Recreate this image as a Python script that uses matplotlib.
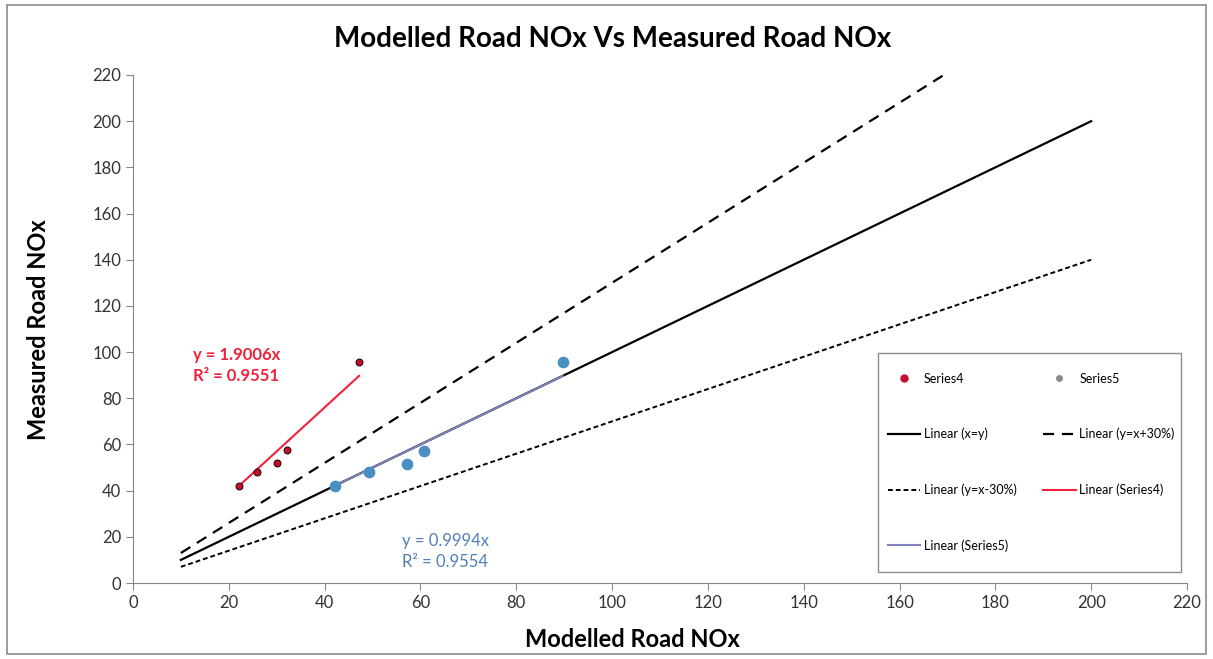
import numpy as np
import matplotlib.pyplot as plt
from matplotlib.lines import Line2D
from matplotlib.patches import Rectangle

plt.rcParams['font.family'] = ['Lato', 'DejaVu Sans']

# data
series4_x = [22.1, 25.8, 30.1, 32.1, 47.2]
series4_y = [42.0, 48.2, 51.8, 57.6, 95.8]
series5_x = [42.2, 49.3, 57.1, 60.8, 89.7]
series5_y = [42.0, 48.2, 51.5, 57.3, 95.6]

# trendline slopes (forced through origin) as labelled
slope4 = 1.9006
slope5 = 0.9994

# reference lines
ref_x = np.array([10, 200])
ref_x_upper = np.array([10, 169.2])
upper_factor = 1.3
lower_factor = 0.7

fig = plt.figure(figsize=(12.13, 6.59), dpi=100)
ax = fig.add_axes([0.1096, 0.1153, 0.8690, 0.7709])

# chart border
fig.patches.append(Rectangle((0.006, 0.008), 0.988, 0.984, transform=fig.transFigure,
                             fill=False, edgecolor='#8c8c8c', lw=1.2))

ax.plot(ref_x, ref_x, color='black', lw=1.6, label='Linear (x=y)')
ax.plot(ref_x_upper, ref_x_upper * upper_factor, color='black', lw=1.6,
        dashes=(5, 3.5), label='Linear (y=x+30%)')
ax.plot(ref_x, ref_x * lower_factor, color='black', lw=1.4,
        dashes=(2.5, 1.5), label='Linear (y=x-30%)')

fx4 = np.array([min(series4_x), max(series4_x)])
fx5 = np.array([min(series5_x), max(series5_x)])
ax.plot(fx4, fx4 * slope4, color='#f2203c', lw=1.5, label='Linear (Series4)')
ax.plot(fx5, fx5 * slope5, color='#7f82b8', lw=1.5, label='Linear (Series5)')

ax.scatter(series4_x, series4_y, s=26, color='#c0102a', edgecolors='black',
           linewidths=0.6, zorder=5, label='Series4')
ax.scatter(series5_x, series5_y, s=55, color='#4a8fc2', edgecolors='#4a8fc2',
           zorder=5, label='Series5')

ax.text(12.5, 98.7, 'y = 1.9006x', color='#f2203c', fontsize=12, fontweight='bold',
        va='center')
ax.text(12.5, 89.5, 'R² = 0.9551', color='#f2203c', fontsize=12, fontweight='bold',
        va='center')
ax.text(56.2, 18.2, 'y = 0.9994x', color='#4f7fb8', fontsize=12, va='center')
ax.text(56.2, 9.0, 'R² = 0.9554', color='#4f7fb8', fontsize=12, va='center')

ax.set_xlim(0, 220)
ax.set_ylim(0, 220)
ax.set_xticks(np.arange(0, 221, 20))
ax.set_yticks(np.arange(0, 221, 20))
ax.tick_params(direction='out', length=5, color='#868686', labelsize=12,
               labelcolor='#333333')
for s in ['top', 'right']:
    ax.spines[s].set_visible(False)
for s in ['left', 'bottom']:
    ax.spines[s].set_color('#868686')

ax.set_title('Modelled Road NOx Vs Measured Road NOx', fontsize=20,
             fontweight='bold', x=0.455, y=1.0, pad=20)
ax.set_xlabel('Modelled Road NOx', fontsize=17, fontweight='bold')
ax.xaxis.set_label_coords(0.474, -0.088)
ax.set_ylabel('Measured Road NOx', fontsize=17, fontweight='bold')
ax.yaxis.set_label_coords(-0.079, 0.498)

# legend box drawn separately, entries placed inside it
ax.add_patch(Rectangle((0.707, 0.022), 0.287, 0.431, transform=ax.transAxes,
                       fill=True, facecolor='white', edgecolor='#8c8c8c', lw=1.0,
                       zorder=6))
h = {l.get_label(): l for l in ax.get_lines()}
s4 = Line2D([], [], ls='none', marker='o', ms=5, color='#c0102a', mec='#c0102a')
s5 = Line2D([], [], ls='none', marker='o', ms=4, color='#8a8a8a', mec='#8a8a8a')
handles = [s4, h['Linear (x=y)'], h['Linear (y=x-30%)'], h['Linear (Series5)'],
           s5, h['Linear (y=x+30%)'], h['Linear (Series4)']]
labels = ['Series4', 'Linear (x=y)', 'Linear (y=x-30%)', 'Linear (Series5)',
          'Series5', 'Linear (y=x+30%)', 'Linear (Series4)']
leg = ax.legend(handles, labels, ncol=2, loc='upper left',
                bbox_to_anchor=(0.716, 0.414), fontsize=9, labelspacing=3.45,
                handlelength=2.6, handletextpad=0.3, columnspacing=2.1,
                borderpad=0, borderaxespad=0, frameon=False)
leg.set_zorder(7)

fig.savefig('out.png', dpi=100)
